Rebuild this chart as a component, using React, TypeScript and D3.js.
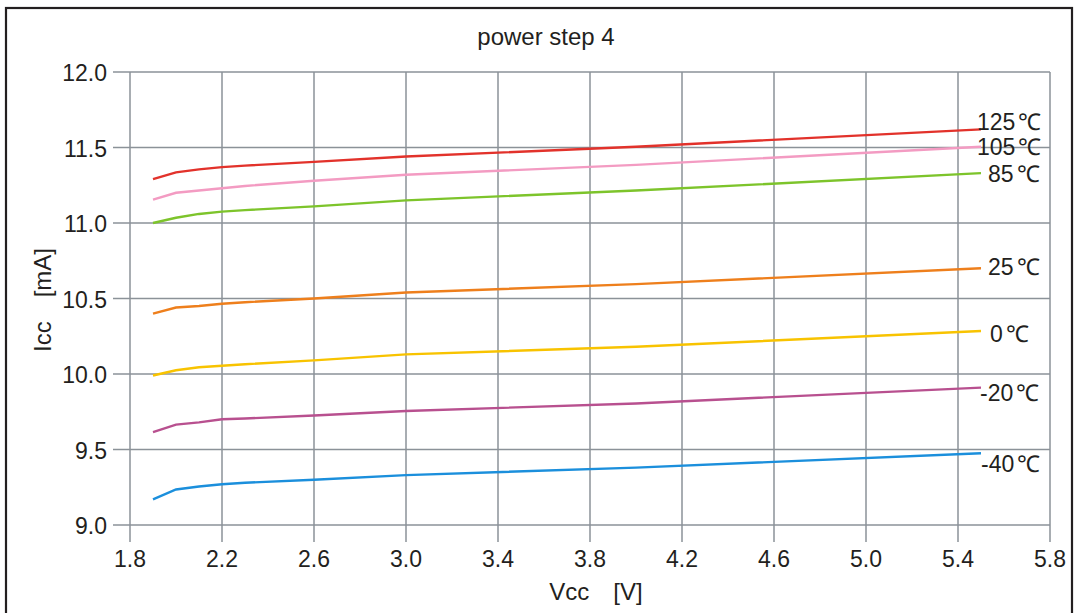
import React from "react";
import * as d3 from "d3";

const vcc = [1.9, 2.0, 2.1, 2.2, 2.3, 2.6, 3.0, 4.0, 5.5];
const t125 = [11.29, 11.335, 11.355, 11.37, 11.38, 11.405, 11.44, 11.505, 11.62];
const t105 = [11.155, 11.2, 11.215, 11.23, 11.245, 11.28, 11.32, 11.385, 11.505];
const t85 = [11.0, 11.035, 11.06, 11.075, 11.085, 11.11, 11.15, 11.215, 11.33];
const t25 = [10.4, 10.44, 10.45, 10.465, 10.475, 10.5, 10.54, 10.595, 10.7];
const t0 = [9.99, 10.025, 10.045, 10.055, 10.065, 10.09, 10.13, 10.18, 10.285];
const tm20 = [9.615, 9.665, 9.68, 9.7, 9.705, 9.725, 9.755, 9.805, 9.91];
const tm40 = [9.17, 9.235, 9.255, 9.27, 9.28, 9.3, 9.33, 9.38, 9.475];

const seriesTemps = ["125", "105", "85", "25", "0", "-20", "-40"];
const seriesValues = [t125, t105, t85, t25, t0, tm20, tm40];
const seriesColors = ["#e2322b", "#f39bc2", "#7dc42b", "#ee7f1c", "#f8c300", "#b8508f", "#1b8fdc"];

const xTicks = [1.8, 2.2, 2.6, 3.0, 3.4, 3.8, 4.2, 4.6, 5.0, 5.4, 5.8];
const yTicks = [9.0, 9.5, 10.0, 10.5, 11.0, 11.5, 12.0];

// label layout (pixel positions of end labels: left x, baseline y)
const labelLayout = [
  { x: 977, y: 130 },
  { x: 977, y: 155 },
  { x: 988, y: 182 },
  { x: 988, y: 275 },
  { x: 990, y: 342 },
  { x: 980, y: 401 },
  { x: 981, y: 472 },
];

export default function App() {
  const W = 1076;
  const H = 613;
  const x = d3.scaleLinear().domain([1.8, 5.8]).range([130, 1050]);
  const y = d3.scaleLinear().domain([9.0, 12.0]).range([525, 72]);
  const line = d3
    .line<[number, number]>()
    .x((d) => x(d[0]))
    .y((d) => y(d[1]));
  const grid = "#8b9298";
  const font = "Liberation Sans, Arial, sans-serif";
  const ink = "#231f20";

  return (
    <svg
      width={W}
      height={H}
      style={{ position: "absolute", left: 0, top: 0, background: "#fff" }}
      fontFamily={font}
    >
      <rect x={0} y={0} width={W} height={H} fill="#fff" />
      <rect x={6} y={8} width={1066} height={640} fill="none" stroke={ink} strokeWidth={2.2} />
      <text x={546} y={45} fontSize={24} textAnchor="middle" fill={ink}>
        power step 4
      </text>
      {/* grid */}
      {xTicks.map((t) => (
        <line key={"gx" + t} x1={x(t)} x2={x(t)} y1={72} y2={542} stroke={grid} strokeWidth={1.5} />
      ))}
      {yTicks.map((t) => (
        <line key={"gy" + t} x1={113} x2={1050} y1={y(t)} y2={y(t)} stroke={grid} strokeWidth={1.5} />
      ))}
      {/* tick labels */}
      {yTicks.map((t) => (
        <text key={"ly" + t} x={107} y={y(t) + 9} fontSize={23} textAnchor="end" fill={ink}>
          {t.toFixed(1)}
        </text>
      ))}
      {xTicks.map((t) => (
        <text key={"lx" + t} x={x(t)} y={567} fontSize={23} textAnchor="middle" fill={ink}>
          {t.toFixed(1)}
        </text>
      ))}
      <text x={596} y={600} fontSize={24} textAnchor="middle" fill={ink}>
        Vcc　[V]
      </text>
      <text
        transform={`translate(51,300) rotate(-90)`}
        fontSize={24}
        textAnchor="middle"
        fill={ink}
      >
        Icc　[mA]
      </text>
      {/* series */}
      {seriesValues.map((vals, i) => (
        <path
          key={"s" + i}
          d={line(vcc.map((v, j) => [v, vals[j]] as [number, number])) || ""}
          fill="none"
          stroke={seriesColors[i]}
          strokeWidth={2.4}
        />
      ))}
      {seriesTemps.map((n, i) => (
        <text key={"n" + i} x={labelLayout[i].x} y={labelLayout[i].y} fontSize={23} fill={ink}>
          {n}
          <tspan dx={3}>℃</tspan>
        </text>
      ))}
    </svg>
  );
}
